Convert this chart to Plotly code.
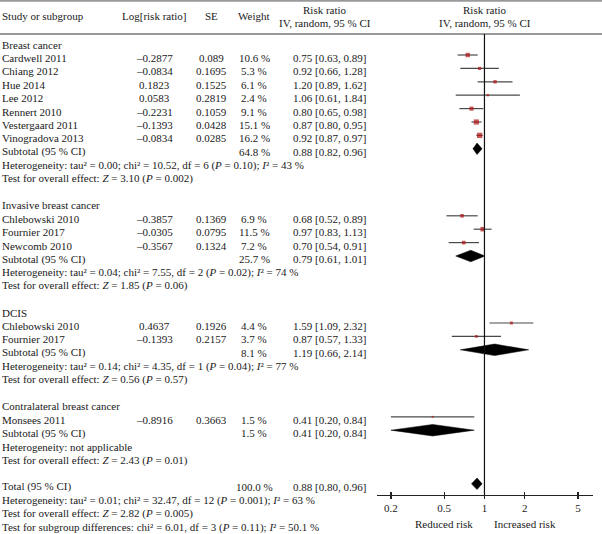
import math
import plotly.graph_objects as go

# ---------------- data ----------------
group_names = ["Breast cancer", "Invasive breast cancer", "DCIS", "Contralateral breast cancer"]
group_sizes = [7, 3, 2, 1]
studies = ["Cardwell 2011", "Chiang 2012", "Hue 2014", "Lee 2012", "Rennert 2010",
           "Vestergaard 2011", "Vinogradova 2013",
           "Chlebowski 2010", "Fournier 2017", "Newcomb 2010",
           "Chlebowski 2010", "Fournier 2017",
           "Monsees 2011"]
log_rr = [-0.2877, -0.0834, 0.1823, 0.0583, -0.2231, -0.1393, -0.0834,
          -0.3857, -0.0305, -0.3567,
          0.4637, -0.1393,
          -0.8916]
se = [0.089, 0.1695, 0.1525, 0.2819, 0.1059, 0.0428, 0.0285,
      0.1369, 0.0795, 0.1324,
      0.1926, 0.2157,
      0.3663]
weight = [10.6, 5.3, 6.1, 2.4, 9.1, 15.1, 16.2,
          6.9, 11.5, 7.2,
          4.4, 3.7,
          1.5]
rr = [0.75, 0.92, 1.20, 1.06, 0.80, 0.87, 0.92,
      0.68, 0.97, 0.70,
      1.59, 0.87,
      0.41]
rr_lo = [0.63, 0.66, 0.89, 0.61, 0.65, 0.80, 0.87,
         0.52, 0.83, 0.54,
         1.09, 0.57,
         0.20]
rr_hi = [0.89, 1.28, 1.62, 1.84, 0.98, 0.95, 0.97,
         0.89, 1.13, 0.91,
         2.32, 1.33,
         0.84]
sub_weight = [64.8, 25.7, 8.1, 1.5]
sub_rr = [0.88, 0.79, 1.19, 0.41]
sub_lo = [0.82, 0.61, 0.66, 0.20]
sub_hi = [0.96, 1.01, 2.14, 0.84]
sub_het = [
    "Heterogeneity: tau² = 0.00; chi² = 10.52, df = 6 (<i>P</i> = 0.10); <i>I</i>² = 43 %",
    "Heterogeneity: tau² = 0.04; chi² = 7.55, df = 2 (<i>P</i> = 0.02); <i>I</i>² = 74 %",
    "Heterogeneity: tau² = 0.14; chi² = 4.35, df = 1 (<i>P</i> = 0.04); <i>I</i>² = 77 %",
    "Heterogeneity: not applicable",
]
sub_test = [
    "Test for overall effect: <i>Z</i> = 3.10 (<i>P</i> = 0.002)",
    "Test for overall effect: <i>Z</i> = 1.85 (<i>P</i> = 0.06)",
    "Test for overall effect: <i>Z</i> = 0.56 (<i>P</i> = 0.57)",
    "Test for overall effect: <i>Z</i> = 2.43 (<i>P</i> = 0.01)",
]
total_weight = 100.0
total_rr, total_lo, total_hi = 0.88, 0.80, 0.96
total_lines = [
    "Heterogeneity: tau² = 0.01; chi² = 32.47, df = 12 (<i>P</i> = 0.001); <i>I</i>² = 63 %",
    "Test for overall effect: <i>Z</i> = 2.82 (<i>P</i> = 0.005)",
    "Test for subgroup differences: chi² = 6.01, df = 3 (<i>P</i> = 0.11); <i>I</i>² = 50.1 %",
]
tick_vals = [0.2, 0.5, 1, 2, 5]
tick_text = ["0.2", "0.5", "1", "2", "5"]
direction_labels = [(0.5, "Reduced risk"), (2, "Increased risk")]

# ---------------- layout constants ----------------
W, H = 602, 534
ROW0 = 41.6      # pixel of row 0 (mark centre)
ROWH = 13.4      # pixel per row
YMAX = ROW0 / ROWH
YMIN = YMAX - H / ROWH
FONT = "Liberation Serif"
FS = 11
TXT = "#1a1a1a"
TEXT_SHIFT = -3

X_NAME = 0 / W
X_LOG = 154 / W
X_SE = 211 / W
X_WT = 254 / W
X_RR = 368 / W
X_RRH = 325 / W
X_FH = 485 / W
AX_L, AX_R = 377 / W, 593 / W
AXIS_PX = 495


def fmt_log(v):
    return ("–" if v < 0 else "") + repr(abs(v))


def fmt_ci(e, l, h):
    return f"{e:.2f} [{l:.2f}, {h:.2f}]"


def fmt_w(w):
    return f"{w:.1f} %"


annotations = []


def add_text(row, x, text, anchor="left"):
    annotations.append(dict(x=x, xref="paper", y=-row, yref="y", text=text,
                            showarrow=False, xanchor=anchor, yanchor="middle",
                            yshift=TEXT_SHIFT, font=dict(family=FONT, size=FS, color=TXT)))


study_rows = []
diamonds = []
row = 0
k = 0
for g, name in enumerate(group_names):
    add_text(row, X_NAME, name)
    row += 1
    for _ in range(group_sizes[g]):
        add_text(row, X_NAME, studies[k])
        add_text(row, X_LOG, fmt_log(log_rr[k]), "center")
        add_text(row, X_SE, repr(se[k]), "center")
        add_text(row, X_WT, fmt_w(weight[k]), "center")
        add_text(row, X_RR, fmt_ci(rr[k], rr_lo[k], rr_hi[k]), "right")
        study_rows.append(row)
        row += 1
        k += 1
    add_text(row, X_NAME, "Subtotal (95 % CI)")
    add_text(row, X_WT, fmt_w(sub_weight[g]), "center")
    add_text(row, X_RR, fmt_ci(sub_rr[g], sub_lo[g], sub_hi[g]), "right")
    diamonds.append((row, sub_rr[g], sub_lo[g], sub_hi[g]))
    row += 1
    add_text(row, X_NAME, sub_het[g])
    row += 1
    add_text(row, X_NAME, sub_test[g])
    row += 2

add_text(row, X_NAME, "Total (95 % CI)")
add_text(row, X_WT, fmt_w(total_weight), "center")
add_text(row, X_RR, fmt_ci(total_rr, total_lo, total_hi), "right")
diamonds.append((row, total_rr, total_lo, total_hi))
row += 1
for t in total_lines:
    add_text(row, X_NAME, t)
    row += 1


def hdr(x, ypx, text, anchor="center"):
    annotations.append(dict(x=x, xref="paper", y=1 - ypx / H, yref="paper", text=text,
                            showarrow=False, xanchor=anchor, yanchor="middle",
                            font=dict(family=FONT, size=FS, color=TXT)))


hdr(X_NAME, 16, "Study or subgroup", "left")
hdr(X_LOG, 16, "Log[risk ratio]")
hdr(X_SE, 16, "SE")
hdr(X_WT, 16, "Weight")
hdr(X_RRH, 10, "Risk ratio")
hdr(X_RRH, 23, "IV, random, 95 % CI")
hdr(X_FH, 10, "Risk ratio")
hdr(X_FH, 23, "IV, random, 95 % CI")

for xv, t in direction_labels:
    annotations.append(dict(x=math.log10(xv), xref="x", y=1 - 524 / H, yref="paper",
                            text=t, showarrow=False, xanchor="center", yanchor="middle",
                            font=dict(family=FONT, size=FS, color=TXT)))

fig = go.Figure()

# CI lines
ci_x, ci_y = [], []
for i, r in enumerate(study_rows):
    ci_x += [rr_lo[i], rr_hi[i], None]
    ci_y += [-r, -r, None]
fig.add_trace(go.Scatter(x=ci_x, y=ci_y, mode="lines", line=dict(color="#4a4a4a", width=1.2),
                         hoverinfo="skip", showlegend=False))

# study squares
fig.add_trace(go.Scatter(x=rr, y=[-r for r in study_rows], mode="markers",
                         marker=dict(symbol="square", color="#b01010",
                                     size=[1.25 * (w ** 0.5) + 0.3 for w in weight],
                                     line=dict(width=0)),
                         hoverinfo="skip", showlegend=False))

# diamonds
DH = 0.43
for (r, e, l, h) in diamonds:
    fig.add_trace(go.Scatter(x=[l, e, h, e, l], y=[-r, -r + DH, -r, -r - DH, -r],
                             mode="lines", fill="toself", fillcolor="black",
                             line=dict(color="black", width=0.5),
                             hoverinfo="skip", showlegend=False))

ax_pos = 1 - AXIS_PX / H
shapes = [
    dict(type="line", xref="paper", yref="paper", x0=0, x1=1, y0=1 - 0.8 / H, y1=1 - 0.8 / H,
         line=dict(color="#9a9a9a", width=2)),
    dict(type="line", xref="paper", yref="paper", x0=0, x1=1, y0=1 - 34 / H, y1=1 - 34 / H,
         line=dict(color="#333333", width=1)),
    dict(type="line", xref="x", yref="paper", x0=1, x1=1, y0=ax_pos, y1=1 - 34 / H,
         line=dict(color="#111111", width=1.2)),
]

xr = [-0.803, 0.811]
fig.update_layout(
    width=W, height=H,
    margin=dict(l=0, r=0, t=0, b=0),
    paper_bgcolor="white", plot_bgcolor="rgba(0,0,0,0)",
    showlegend=False,
    xaxis=dict(type="log", domain=[AX_L, AX_R], range=xr, anchor="free", position=ax_pos,
               showline=True, linecolor="#222222", linewidth=1.2,
               ticks="outside", ticklen=3, tickwidth=1.2, tickcolor="#222222",
               tickvals=tick_vals, ticktext=tick_text, showgrid=False, zeroline=False,
               tickfont=dict(family=FONT, size=FS, color=TXT)),
    xaxis2=dict(type="log", domain=[AX_L, AX_R], range=xr, anchor="free", position=ax_pos,
                overlaying="x", showline=False, ticks="inside", ticklen=3, tickwidth=1.2,
                tickcolor="#222222", tickvals=tick_vals, showticklabels=False,
                showgrid=False, zeroline=False),
    yaxis=dict(domain=[0, 1], range=[YMIN, YMAX], visible=False, showgrid=False, zeroline=False),
    annotations=annotations,
    shapes=shapes,
)
fig.add_trace(go.Scatter(x=[1], y=[YMAX + 5], xaxis="x2", mode="markers",
                         marker=dict(opacity=0), hoverinfo="skip", showlegend=False))

fig.write_html("out.html", config={"displayModeBar": False, "staticPlot": True},
               post_script="document.body.style.margin='0';document.body.style.overflow='hidden';")
